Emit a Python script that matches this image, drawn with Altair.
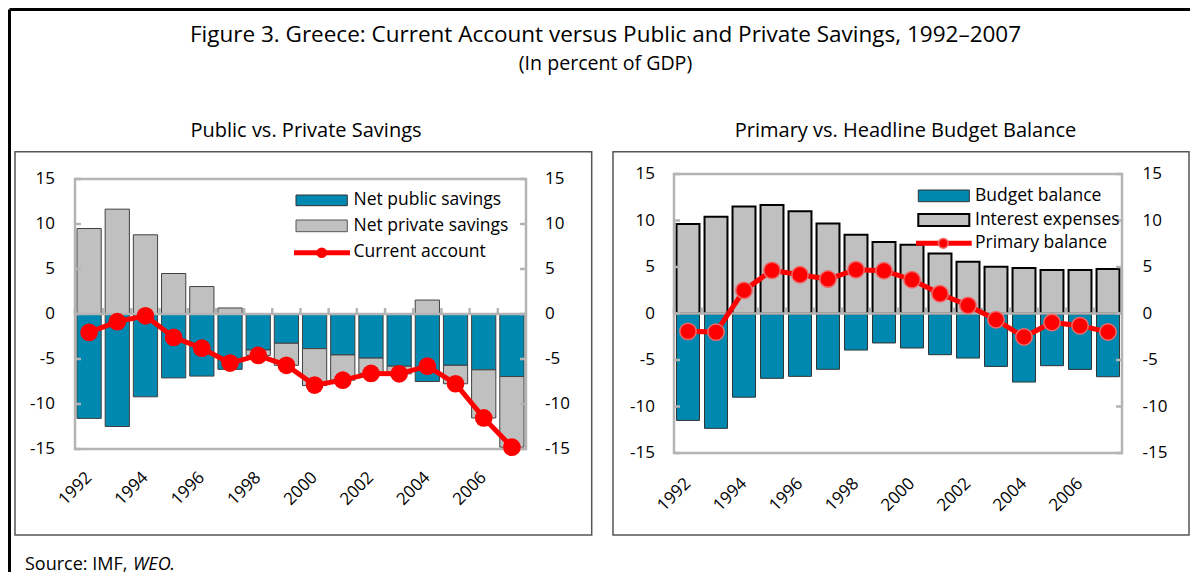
import altair as alt
import pandas as pd

# ---------------- data ----------------
years = list(range(1992, 2008))
public_savings = [-11.6, -12.5, -9.2, -7.1, -6.9, -6.15, -4.0, -3.25, -3.85, -4.55, -4.9, -5.8, -7.5, -5.7, -6.2, -6.95]
private_savings = [9.5, 11.65, 8.8, 4.5, 3.05, 0.67, -0.6, -2.45, -4.1, -2.8, -1.7, -0.85, 1.55, -2.05, -5.35, -7.85]
current_account = [-2.05, -0.85, -0.2, -2.6, -3.8, -5.45, -4.6, -5.7, -7.9, -7.35, -6.6, -6.65, -5.8, -7.75, -11.55, -14.8]

budget_balance = [-11.5, -12.35, -9.0, -6.97, -6.76, -6.0, -3.93, -3.17, -3.71, -4.43, -4.79, -5.69, -7.37, -5.61, -6.01, -6.8]
interest_expenses = [9.62, 10.4, 11.5, 11.66, 11.0, 9.69, 8.47, 7.69, 7.4, 6.46, 5.57, 5.03, 4.89, 4.67, 4.67, 4.78]
primary_balance = [-1.92, -2.0, 2.49, 4.64, 4.17, 3.7, 4.71, 4.6, 3.63, 2.13, 0.87, -0.67, -2.53, -0.96, -1.31, -1.99]

y_ticks = [-15, -10, -5, 0, 5, 10, 15]
x_label_years = [1992, 1994, 1996, 1998, 2000, 2002, 2004, 2006]

title_text = "Figure 3. Greece: Current Account versus Public and Private Savings, 1992\u20132007"
subtitle_text = "(In percent of GDP)"
left_title = "Public vs. Private Savings"
right_title = "Primary vs. Headline Budget Balance"
left_legend = ["Net public savings", "Net private savings", "Current account"]
right_legend = ["Budget balance", "Interest expenses", "Primary balance"]
source_parts = ["Source: IMF, ", "WEO", "."]

# ---------------- style ----------------
FONT = "Open Sans"
TEAL = "#0089b0"
GRAY = "#c0c0c0"
RED = "#ff0000"
AXG = "#b4b4b4"
BOX = "#555555"
FS = 17      # tick labels
LFS = 17.5   # legend text

LW, LH = 451, 275
RW, RH = 448, 279
l_ys = alt.Scale(domain=[-15, 15 + 5 / 9], nice=False, zero=False)
r_ys = alt.Scale(domain=[-15, 15], nice=False, zero=False)
l_y0 = LH * (15 + 5 / 9) / (30 + 5 / 9)
r_y0 = RH / 2

one = pd.DataFrame({"a": [0]})
ticks_df = pd.DataFrame({"v": y_ticks, "lab": [str(v) for v in y_ticks]})
years_df = pd.DataFrame({"year": years})
xlab_df = pd.DataFrame({"year": x_label_years, "lab": [str(v) for v in x_label_years]})


def txt(s, x, y, size=LFS, align="left", italic=False):
    return alt.Chart(pd.DataFrame({"t": [s]})).mark_text(
        align=align, baseline="middle", font=FONT, fontSize=size,
        fontStyle="italic" if italic else "normal", color="black"
    ).encode(x=alt.value(x), y=alt.value(y), text="t:N")


def box(x, x2, y, y2, fill="white", stroke=BOX, sw=1.5, fo=1.0):
    return alt.Chart(one).mark_rect(fill=fill, fillOpacity=fo, stroke=stroke, strokeWidth=sw).encode(
        x=alt.value(x), x2=alt.value(x2), y=alt.value(y), y2=alt.value(y2))


def hline(x, x2, y, color, sw):
    return alt.Chart(one).mark_rule(color=color, strokeWidth=sw).encode(
        x=alt.value(x), x2=alt.value(x2), y=alt.value(y))


def vline(x, y, y2, color, sw):
    return alt.Chart(one).mark_rule(color=color, strokeWidth=sw).encode(
        x=alt.value(x), y=alt.value(y), y2=alt.value(y2))


def dot(x, y, size, stroke=None):
    kw = dict(size=size, color=RED, opacity=1)
    if stroke:
        kw.update(stroke=stroke, strokeWidth=1.5)
    return alt.Chart(one).mark_circle(**kw).encode(x=alt.value(x), y=alt.value(y))


def frame_layers(ys, W, H, y0, gap_off, lpad, rpad, xpad):
    zero = alt.Chart(pd.DataFrame({"v": [0]})).mark_rule(color=AXG, strokeWidth=2.5).encode(
        y=alt.Y("v:Q", scale=ys, axis=None))
    zticks = alt.Chart(years_df).mark_rule(color=AXG, strokeWidth=2.5, xOffset=gap_off).encode(
        x=alt.X("year:O", bandPosition=0, axis=None), y=alt.value(y0), y2=alt.value(y0 - 6))
    border = alt.Chart(pd.DataFrame({"top": [15], "bot": [-15]})).mark_rect(
        fillOpacity=0, stroke=AXG, strokeWidth=2.5).encode(
        y=alt.Y("top:Q", scale=ys, axis=None), y2="bot:Q", x=alt.value(0), x2=alt.value(W))
    lt = alt.Chart(ticks_df).mark_rule(color=AXG, strokeWidth=2.5).encode(
        y=alt.Y("v:Q", scale=ys, axis=None), x=alt.value(0), x2=alt.value(6))
    rt = alt.Chart(ticks_df).mark_rule(color=AXG, strokeWidth=2.5).encode(
        y=alt.Y("v:Q", scale=ys, axis=None), x=alt.value(W - 6), x2=alt.value(W))
    llab = alt.Chart(ticks_df).mark_text(align="right", baseline="middle", font=FONT, fontSize=FS,
                                         color="black").encode(
        y=alt.Y("v:Q", scale=ys, axis=None), x=alt.value(-lpad), text="lab:N")
    rlab = alt.Chart(ticks_df).mark_text(align="left", baseline="middle", font=FONT, fontSize=FS,
                                         color="black").encode(
        y=alt.Y("v:Q", scale=ys, axis=None), x=alt.value(W + rpad), text="lab:N")
    xlab = alt.Chart(xlab_df).mark_text(align="right", baseline="middle", angle=315, font=FONT,
                                        fontSize=FS, color="black").encode(
        x=alt.X("year:O", axis=None), y=alt.value(H + xpad), text="lab:N")
    return [zero, zticks, border, lt, rt, llab, rlab, xlab]


# ---------------- left panel ----------------
left_df = pd.DataFrame({
    "year": years * 2,
    "series": ["public"] * 16 + ["private"] * 16,
    "value": public_savings + private_savings,
    "ord": [0] * 16 + [1] * 16,
})
ca_df = pd.DataFrame({"year": years, "value": current_account})

l_xs = alt.Scale(paddingInner=0.14, paddingOuter=0.07)
l_bars = alt.Chart(left_df).mark_bar(stroke="#404040", strokeWidth=1).encode(
    x=alt.X("year:O", scale=l_xs, axis=None),
    y=alt.Y("value:Q", stack="zero", scale=l_ys, axis=None),
    color=alt.Color("series:N", scale=alt.Scale(domain=["public", "private"], range=[TEAL, GRAY]), legend=None),
    order=alt.Order("ord:Q"),
)
l_line = alt.Chart(ca_df).mark_line(color=RED, strokeWidth=5).encode(
    x=alt.X("year:O", axis=None),
    y=alt.Y("value:Q", scale=l_ys, axis=None))
l_pts = alt.Chart(ca_df).mark_circle(size=314, color=RED, opacity=1).encode(
    x=alt.X("year:O", axis=None),
    y=alt.Y("value:Q", scale=l_ys, axis=None))

# origin of left plot: page (75, 174); frame top-left at page (8, 8)
left_layers = [
    box(-60, 516.7, -22.3, 361, fill="white", fo=0.0),
    l_bars,
] + frame_layers(l_ys, LW, LH, l_y0, -2, 20, 19, 26) + [
    l_line, l_pts,
    # legend
    box(221, 272.3, 21, 31.7, fill=TEAL, stroke="#333333", sw=1),
    txt(left_legend[0], 278.5, 26),
    box(221, 272.3, 46, 57.7, fill=GRAY, stroke="#555555", sw=1),
    txt(left_legend[1], 278.5, 51.5),
    hline(219, 275, 78.7, RED, 5),
    dot(246.7, 78.7, 113),
    txt(left_legend[2], 278.5, 78),
    # figure frame, titles and source
    vline(-65.5, -164.5, 398, "black", 3),
    hline(-65.5, 1115, -164.5, "black", 3),
    txt(title_text, 530.5, -139, 22.5, "center"),
    txt(subtitle_text, 530.5, -110, 19.6, "center"),
    txt(left_title, 231, -43, 20, "center"),
    txt(source_parts[0], -50, 391, 18),
    txt(source_parts[1], 58, 391, 18, italic=True),
    txt(source_parts[2], 94.5, 391, 18),
]
left = alt.layer(*left_layers).properties(width=LW, height=LH)

# ---------------- right panel ----------------
bb_df = pd.DataFrame({"year": years, "value": budget_balance})
ie_df = pd.DataFrame({"year": years, "value": interest_expenses})
pb_df = pd.DataFrame({"year": years, "value": primary_balance})

r_xs = alt.Scale(paddingInner=0.18, paddingOuter=0.09)
r_bb = alt.Chart(bb_df).mark_bar(color=TEAL, stroke="#333333", strokeWidth=1).encode(
    x=alt.X("year:O", scale=r_xs, axis=None),
    y=alt.Y("value:Q", scale=r_ys, axis=None))
r_ie = alt.Chart(ie_df).mark_bar(color=GRAY, stroke="black", strokeWidth=2).encode(
    x=alt.X("year:O", axis=None),
    y=alt.Y("value:Q", scale=r_ys, axis=None))
r_line = alt.Chart(pb_df).mark_line(color=RED, strokeWidth=5).encode(
    x=alt.X("year:O", axis=None),
    y=alt.Y("value:Q", scale=r_ys, axis=None))
r_pts = alt.Chart(pb_df).mark_circle(size=270, color=RED, opacity=1, stroke="#ee6a6a", strokeWidth=1.5).encode(
    x=alt.X("year:O", axis=None),
    y=alt.Y("value:Q", scale=r_ys, axis=None))

# origin of right plot: page (674, 174)
right_layers = [
    box(-61, 515, -22.3, 361, fill="white", fo=0.0),
    r_bb, r_ie,
] + frame_layers(r_ys, RW, RH, r_y0, -2.5, 19, 20.5, 28) + [
    r_line, r_pts,
    box(244.3, 295.3, 16, 27.7, fill=TEAL, stroke="#333333", sw=1),
    txt(right_legend[0], 301, 21.5),
    box(244.3, 295.3, 40, 52, fill=GRAY, stroke="black", sw=2),
    txt(right_legend[1], 301, 45.5),
    hline(242, 297.7, 69.3, RED, 5),
    dot(269.3, 69.3, 95, stroke="#ee6a6a"),
    txt(right_legend[2], 301, 69),
    txt(right_title, 231.5, -43, 20, "center"),
]
right = alt.layer(*right_layers).properties(width=RW, height=RH)

chart = alt.hconcat(left, right, spacing=148, bounds="flush").properties(padding=0).configure_view(strokeWidth=0)

chart.save("out.html", embed_options={"renderer": "svg", "actions": False})
